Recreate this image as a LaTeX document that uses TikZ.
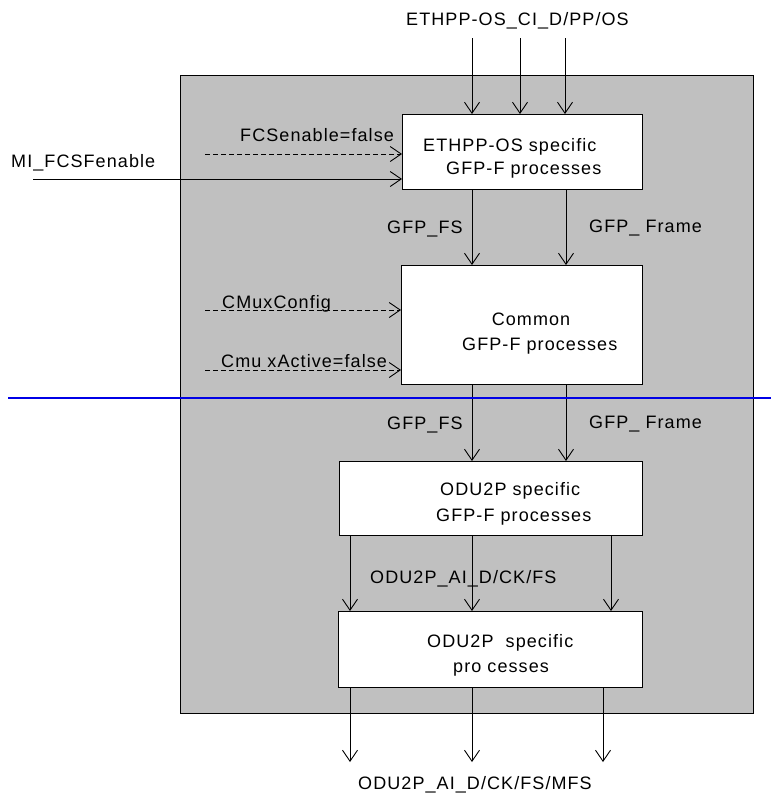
\documentclass[tikz,border=0pt]{standalone}
\usepackage{fontspec}
\setmainfont{Liberation Sans}[LetterSpace=6]
\usetikzlibrary{arrows.meta}
\definecolor{panel}{RGB}{192,192,192}
\definecolor{divider}{RGB}{0,0,230}
\begin{document}
\begin{tikzpicture}[x=1pt,y=-1pt,
  lbl/.style={font=\fontsize{18}{20}\selectfont, inner sep=0pt, anchor=base west},
  proc/.style={draw, fill=white, line width=1.2pt, inner sep=0pt, anchor=north west},
  flow/.style={-{Straight Barb[length=11pt,width=15pt]}, line width=0.9pt},
  ctl/.style={flow, dash pattern=on 5pt off 3pt}]
\useasboundingbox (0,0) rectangle (771,796);

% grey function frame
\node[draw, fill=panel, line width=0.9pt, inner sep=0pt, anchor=north west,
      minimum width=573pt, minimum height=638pt] (frame) at (180,75) {};

% process boxes
\node[proc, minimum width=240pt, minimum height=75pt]  (b1) at (402,114) {};
\node[proc, minimum width=241pt, minimum height=119pt] (b2) at (401,265) {};
\node[proc, minimum width=303pt, minimum height=74pt]  (b3) at (339,461) {};
\node[proc, minimum width=304pt, minimum height=76pt]  (b4) at (338,611) {};

% texts inside the boxes
\node[lbl] (t1a) at (423,151) {ETHPP-OS specific};
\node[lbl] (t1b) at (446,174) {GFP-F processes};
\node[lbl, anchor=base] (t2a) at (531,325) {Common};
\node[lbl] (t2b) at (462,350) {GFP-F processes};
\node[lbl] (t3a) at (440,495) {ODU2P specific};
\node[lbl] (t3b) at (436,521) {GFP-F processes};
\node[lbl] (t4a) at (427,647) {ODU2P\ \ specific};
\node[lbl] (t4b) at (453,672) {pro cesses};

% column positions
\coordinate (cA) at (472,0);
\coordinate (cB) at (566,0);
\coordinate (dA) at (350,0);
\coordinate (dC) at (611,0);

% inputs from the top
\node[lbl] (tin) at (406,25) {ETHPP-OS\_CI\_D/PP/OS};
\coordinate (in1) at (472,38);
\coordinate (in2) at (520,38);
\coordinate (in3) at (565,38);
\draw[flow] (in1) -- (in1 |- b1.north);
\draw[flow] (in2) -- (in2 |- b1.north);
\draw[flow] (in3) -- (in3 |- b1.north);

% management inputs
\node[lbl] (tfcs) at (240,141) {FCSenable=false};
\node[lbl] (tmi) at (11,167) {MI\_FCSFenable};
\coordinate (s1) at (205,154);
\coordinate (s2) at (33,179);
\draw[ctl] (s1) -- (s1 -| b1.west);
\draw[flow] (s2) -- (s2 -| b1.west);

\node[lbl] (tcfg) at (222,308) {CMuxConfig};
\node[lbl] (tact) at (221,367) {Cmu xActive=false};
\coordinate (s3) at (205,310);
\coordinate (s4) at (205,370);
\draw[ctl] (s3) -- (s3 -| b2.west);
\draw[ctl] (s4) -- (s4 -| b2.west);

% b1 -> b2
\draw[flow] (b1.south -| cA) -- (b2.north -| cA);
\draw[flow] (b1.south -| cB) -- (b2.north -| cB);
\node[lbl] (tfs1) at (387,233) {GFP\_FS};
\node[lbl] (tfr1) at (589,232) {GFP\_ Frame};

% b2 -> b3
\draw[flow] (b2.south -| cA) -- (b3.north -| cA);
\draw[flow] (b2.south -| cB) -- (b3.north -| cB);
\node[lbl] (tfs2) at (387,429) {GFP\_FS};
\node[lbl] (tfr2) at (589,428) {GFP\_ Frame};

% b3 -> b4
\draw[flow] (b3.south -| dA) -- (b4.north -| dA);
\draw[flow] (b3.south -| cA) -- (b4.north -| cA);
\draw[flow] (b3.south -| dC) -- (b4.north -| dC);
\node[lbl] (tai) at (370,583) {ODU2P\_AI\_D/CK/FS};

% outputs
\coordinate (o1) at (350,762);
\coordinate (o2) at (472,762);
\coordinate (o3) at (603,762);
\draw[flow] (b4.south -| o1) -- (o1);
\draw[flow] (b4.south -| o2) -- (o2);
\draw[flow] (b4.south -| o3) -- (o3);
\node[lbl] (tout) at (358,789) {ODU2P\_AI\_D/CK/FS/MFS};

% horizontal divider
\coordinate (hl) at (8,398);
\coordinate (hr) at (771,398);
\draw[divider, line width=1.6pt] (hl) -- (hr);
\end{tikzpicture}
\end{document}
